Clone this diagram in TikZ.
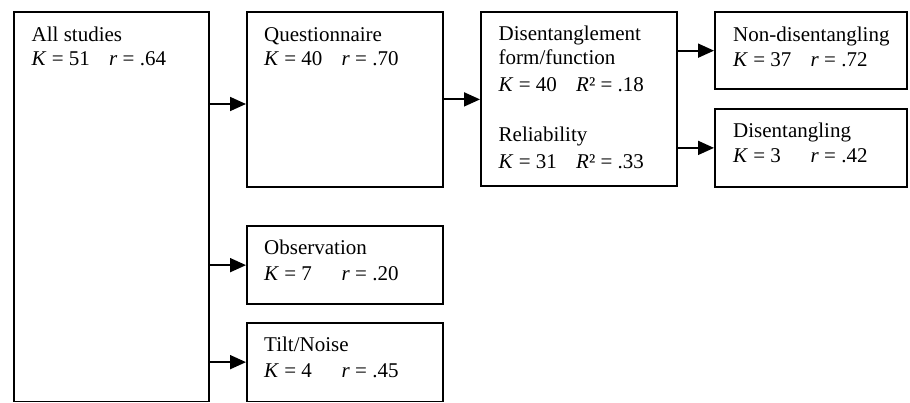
\documentclass[tikz,border=0pt]{standalone}
\usepackage{fontspec}
\setmainfont{Liberation Serif}
\usetikzlibrary{arrows.meta}
\newcommand\krline[3]{\makebox[77.5pt][l]{\textit{K} = #1}\textit{#2} = #3}
\tikzset{
  boxnode/.style={draw, line width=1.8pt, rectangle, inner sep=0pt, anchor=north west},
  txt/.style={inner sep=0pt, anchor=base west, font=\fontsize{21}{25}\selectfont},
  arr/.style={line width=1.8pt, -{Triangle[length=16pt,width=14pt]}}
}
\begin{document}
\begin{tikzpicture}[x=1pt,y=-1pt]
\useasboundingbox (0,0) rectangle (910,403);
% boxes
\node[boxnode, minimum width=195pt, minimum height=389.5pt] (all) at (13,11) {};
\node[boxnode, minimum width=196pt, minimum height=175pt] (quest) at (246,11) {};
\node[boxnode, minimum width=196pt, minimum height=174pt] (dis) at (480,11) {};
\node[boxnode, minimum width=192pt, minimum height=76.5pt] (nondis) at (714,11.5) {};
\node[boxnode, minimum width=192pt, minimum height=78pt] (disent) at (714,108) {};
\node[boxnode, minimum width=196pt, minimum height=78.5pt] (obs) at (246,225) {};
\node[boxnode, minimum width=196pt, minimum height=78.5pt] (tilt) at (246,322) {};
% texts
\node[txt] (all1) at (31.5,41.5) {All studies};
\node[txt] (all2) at (31.5,66) {\krline{51}{r}{.64}};
\node[txt] (q1) at (264,41.5) {Questionnaire};
\node[txt] (q2) at (264,66) {\krline{40}{r}{.70}};
\node[txt] (d1) at (498.5,41) {Disentanglement};
\node[txt] (d2) at (498.5,65) {form/function};
\node[txt] (d3) at (498.5,92) {\makebox[77.5pt][l]{\textit{K} = 40}\textit{R}² = .18};
\node[txt] (d4) at (498.5,141.5) {Reliability};
\node[txt] (d5) at (498.5,169) {\makebox[77.5pt][l]{\textit{K} = 31}\textit{R}² = .33};
\node[txt] (n1) at (733,41.5) {Non-disentangling};
\node[txt] (n2) at (733,67) {\krline{37}{r}{.72}};
\node[txt] (e1) at (733,137.5) {Disentangling};
\node[txt] (e2) at (733,163) {\krline{3}{r}{.42}};
\node[txt] (o1) at (264,255) {Observation};
\node[txt] (o2) at (264,280.5) {\krline{7}{r}{.20}};
\node[txt] (t1) at (264,351) {Tilt/Noise};
\node[txt] (t2) at (264,377.5) {\krline{4}{r}{.45}};
% arrows
\draw[arr] (all.east |- 0,104) -- (quest.west |- 0,104);
\draw[arr] (all.east |- obs.west) -- (obs.west);
\draw[arr] (all.east |- tilt.west) -- (tilt.west);
\draw[arr] (quest.east) -- (dis.west |- quest.east);
\draw[arr] (dis.east |- nondis.west) -- (nondis.west);
\draw[arr] (dis.east |- disent.west) -- (disent.west);
\end{tikzpicture}
\end{document}
